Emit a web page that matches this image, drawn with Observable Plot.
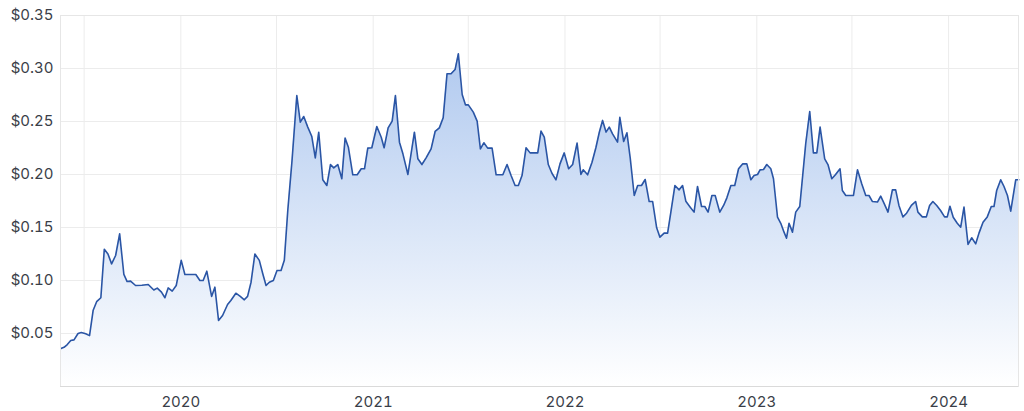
<!DOCTYPE html>
<html><head><meta charset="utf-8">
<script src="https://cdn.jsdelivr.net/npm/d3@7"></script>
<script src="https://cdn.jsdelivr.net/npm/@observablehq/plot@0.6"></script>
<style>html,body{margin:0;padding:0;background:#fff;overflow:hidden}</style>
</head><body><div id="chart"></div>
<script>
// decimal-year time stamps of the price series
const years = [
2019.378,2019.391,2019.408,2019.426,2019.443,2019.464,2019.481,2019.504,2019.524,2019.543,2019.561,2019.583,2019.601,2019.620,2019.639,2019.660,2019.681,2019.703,2019.720,2019.738,2019.764,2019.797,2019.830,2019.859,2019.877,2019.899,2019.917,2019.934,2019.955,2019.976,2020.002,2020.021,2020.050,2020.078,
2020.099,2020.116,2020.135,2020.160,2020.177,2020.196,2020.217,2020.243,2020.260,2020.286,2020.309,2020.330,2020.347,2020.365,2020.385,2020.408,2020.426,2020.443,2020.460,2020.481,2020.500,2020.521,2020.538,2020.556,2020.578,2020.603,2020.621,2020.639,2020.660,2020.681,2020.699,2020.717,2020.738,2020.759,2020.778,2020.795,
2020.816,2020.837,2020.854,2020.871,2020.894,2020.917,2020.938,2020.955,2020.972,2020.993,2021.019,2021.042,2021.057,2021.078,2021.099,2021.116,2021.137,2021.155,2021.181,2021.215,2021.233,2021.254,2021.276,2021.302,2021.323,2021.345,2021.365,2021.385,2021.406,2021.427,2021.444,2021.464,2021.481,2021.496,
2021.522,2021.542,2021.559,2021.577,2021.597,2021.620,2021.641,2021.676,2021.698,2021.719,2021.740,2021.757,2021.776,2021.797,2021.818,2021.858,2021.875,2021.892,2021.913,2021.932,2021.953,2021.974,2021.996,2022.019,2022.040,2022.063,2022.083,2022.095,2022.118,2022.141,2022.161,2022.179,2022.196,
2022.214,2022.231,2022.248,2022.274,2022.286,2022.306,2022.323,2022.340,2022.361,2022.379,2022.399,2022.418,2022.439,2022.457,2022.478,2022.495,2022.517,2022.535,2022.552,2022.573,2022.595,2022.613,2022.630,2022.653,2022.673,2022.691,2022.712,2022.729,2022.746,2022.766,2022.783,2022.807,2022.827,2022.844,2022.865,2022.885,2022.905,2022.926,2022.948,2022.969,2022.986,
2023.004,2023.017,2023.035,2023.052,2023.073,2023.087,2023.108,2023.125,2023.142,2023.155,2023.168,2023.186,2023.203,2023.224,2023.255,2023.276,2023.295,2023.313,2023.330,2023.354,2023.371,2023.391,2023.411,2023.434,2023.446,2023.464,2023.504,2023.525,2023.547,2023.568,2023.585,2023.603,
2023.629,2023.646,2023.663,2023.684,2023.707,2023.724,2023.741,2023.762,2023.781,2023.806,2023.828,2023.840,2023.863,2023.884,2023.901,2023.918,2023.938,2023.958,2023.979,2023.993,
2024.007,2024.024,2024.045,2024.063,2024.080,2024.101,2024.120,2024.141,2024.158,2024.179,2024.201,2024.222,2024.236,2024.250,2024.271,2024.288,2024.306,2024.323,2024.349,2024.365
];
// share price in dollars
const prices = [
0.036,0.037,0.0396,0.0434,0.044,0.050,0.051,0.0497,0.048,0.072,0.080,0.0837,0.1295,0.125,0.1157,0.1236,0.144,0.1057,0.099,0.0994,0.0953,0.0955,0.0962,0.091,0.0928,0.089,0.0837,0.093,0.090,0.0953,0.119,0.1057,0.1057,0.1057,
0.100,0.100,0.1088,0.085,0.0937,0.0623,0.067,0.0774,0.0811,0.088,0.085,0.0818,0.085,0.0984,0.125,0.119,0.1063,0.0953,0.0984,0.100,0.1094,0.1094,0.119,0.166,0.213,0.2745,0.2494,0.2547,0.2447,0.2358,0.2157,0.2399,0.195,0.1896,0.2094,0.2063,
0.2094,0.196,0.2343,0.2258,0.1997,0.1997,0.2054,0.2054,0.2249,0.2252,0.2453,0.2352,0.2252,0.244,0.2503,0.2745,0.2305,0.2195,0.200,0.2399,0.2148,0.2094,0.2157,0.2242,0.2406,0.244,0.2535,0.295,0.295,0.299,0.3138,0.2755,0.2657,0.2657,
0.2588,0.2503,0.2242,0.2299,0.2249,0.2249,0.1997,0.1997,0.2094,0.199,0.1896,0.1896,0.199,0.2252,0.2204,0.2204,0.2409,0.2352,0.2094,0.2012,0.195,0.21,0.2204,0.2054,0.2094,0.2296,0.200,0.2044,0.1997,0.2116,0.2252,0.2399,0.251,
0.240,0.2447,0.2384,0.2305,0.254,0.2311,0.2393,0.2157,0.1802,0.1896,0.1896,0.1953,0.1745,0.1745,0.1497,0.1409,0.1447,0.1447,0.1645,0.1896,0.1855,0.1896,0.1748,0.1692,0.1645,0.1887,0.1698,0.1698,0.1645,0.1802,0.1802,0.1645,0.1708,0.178,0.1896,0.1896,0.2054,0.210,0.210,0.195,0.199,
0.200,0.2044,0.2047,0.2094,0.2054,0.196,0.1597,0.154,0.1456,0.1399,0.154,0.1456,0.1645,0.1698,0.229,0.2594,0.2204,0.2204,0.2447,0.2148,0.2094,0.196,0.200,0.2054,0.1849,0.1802,0.1802,0.2044,0.1912,0.1802,0.1802,0.1745,
0.174,0.1796,0.173,0.1645,0.1855,0.1855,0.1708,0.160,0.1635,0.1708,0.1745,0.1645,0.160,0.160,0.1708,0.1745,0.1708,0.166,0.160,0.160,
0.170,0.1597,0.154,0.1503,0.1692,0.134,0.1403,0.1346,0.1447,0.155,0.160,0.1698,0.1698,0.1849,0.195,0.1887,0.1802,0.1654,0.195,0.195
];
const yTicks = [0.05, 0.10, 0.15, 0.20, 0.25, 0.30, 0.35];
const yearTicks = ["2020-01-01", "2021-01-01", "2022-01-01", "2023-01-01", "2024-01-01"];
const gridDates = ["2019-07-01", "2020-01-01", "2020-07-01", "2021-01-01", "2021-07-01", "2022-01-01", "2022-07-01", "2023-01-01", "2023-07-01", "2024-01-01"];
const xStart = "2019-05-17", xEnd = "2024-05-13";

function decToDate(t) {
  const y = Math.floor(t);
  const a = Date.UTC(y, 0, 1), b = Date.UTC(y + 1, 0, 1);
  return new Date(a + (t - y) * (b - a));
}
const data = years.map((t, i) => ({date: decToDate(t), price: prices[i]}));

const chart = Plot.plot({
  width: 1024, height: 411,
  marginLeft: 60, marginRight: 6, marginTop: 15, marginBottom: 25,
  style: {fontFamily: "Inter, sans-serif", fontSize: "15px", color: "#3a3e48", background: "#fff"},
  x: {type: "utc", domain: [new Date(xStart), new Date(xEnd)], ticks: yearTicks.map(d => new Date(d)),
      tickFormat: d3.utcFormat("%Y"), tickSize: 0, tickPadding: 10, label: null},
  y: {domain: [0, 0.35], ticks: yTicks, tickFormat: d => "$" + d.toFixed(2), tickSize: 0, tickPadding: 7, label: null},
  marks: [
    Plot.ruleY(yTicks, {stroke: "#ececec"}),
    Plot.ruleX(gridDates.map(d => new Date(d)), {stroke: "#ececec"}),
    Plot.areaY(data, {x: "date", y: "price", fill: "url(#areaGrad)"}),
    Plot.lineY(data, {x: "date", y: "price", stroke: "#2a55a5", strokeWidth: 1.6}),
    Plot.frame({stroke: "#e6e6e6"}),
    Plot.ruleY([0], {stroke: "#dadada"})
  ]
});
const ns = "http://www.w3.org/2000/svg";
const defs = document.createElementNS(ns, "defs");
const grad = document.createElementNS(ns, "linearGradient");
grad.setAttribute("id", "areaGrad");
grad.setAttribute("gradientUnits", "userSpaceOnUse");
grad.setAttribute("x1", "0"); grad.setAttribute("y1", "50");
grad.setAttribute("x2", "0"); grad.setAttribute("y2", "386");
[["0", "#b0c9ef"], ["1", "#ffffff"]].forEach(([o, c]) => {
  const s = document.createElementNS(ns, "stop");
  s.setAttribute("offset", o); s.setAttribute("stop-color", c);
  grad.appendChild(s);
});
defs.appendChild(grad);
chart.insertBefore(defs, chart.firstChild);
document.getElementById("chart").appendChild(chart);
</script>
</body></html>
